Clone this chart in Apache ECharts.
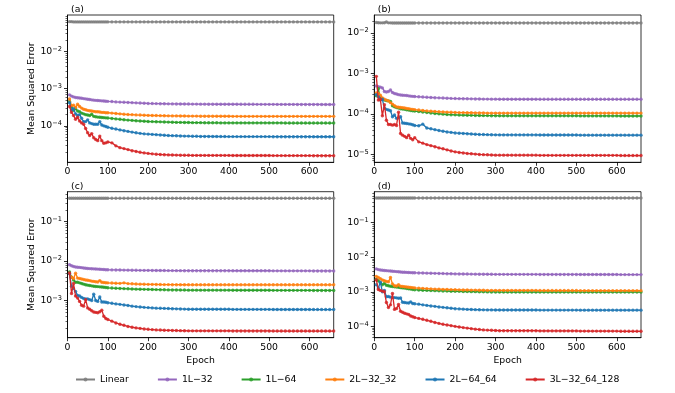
<!DOCTYPE html>
<html><head><meta charset="utf-8">
<script src="https://cdn.jsdelivr.net/npm/echarts@6/dist/echarts.min.js"></script>
<style>html,body{margin:0;padding:0;background:#fff}#c{width:675px;height:393px}</style>
</head><body><div id="c"></div>
<script>
const epochs = [5,10,15,20,25,30,35,40,45,50,55,60,65,70,75,80,85,90,95,100,
110,120,130,140,150,160,170,180,190,200,
210,220,230,240,250,260,270,280,290,300,
310,320,330,340,350,360,370,380,390,400,
410,420,430,440,450,460,470,480,490,500,
510,520,530,540,550,560,570,580,590,600,
610,620,630,640,650,660];

const seriesNames = ['Linear','1L\u221232','1L\u221264','2L\u221232_32','2L\u221264_64','3L\u221232_64_128'];
const panelLabels = ['(a)','(b)','(c)','(d)'];
const xTickValues = [0,100,200,300,400,500,600];
const yTicksA = [1e-4,1e-3,1e-2];
const yTicksB = [1e-5,1e-4,1e-3,1e-2];
const yTicksC = [1e-3,1e-2,1e-1];
const yTicksD = [1e-4,1e-3,1e-2,1e-1];

// ---------- panel (a)
const a_linear = [0.063,0.063,0.062,0.062,0.062,0.062,0.062,0.062,0.062,0.062,0.062,0.062,0.062,0.062,0.062,0.062,0.062,0.062,0.062,0.062,
0.062,0.062,0.062,0.062,0.062,0.062,0.062,0.062,0.062,0.062,
0.062,0.062,0.062,0.062,0.062,0.062,0.062,0.062,0.062,0.062,
0.062,0.062,0.062,0.062,0.062,0.062,0.062,0.062,0.062,0.062,
0.062,0.062,0.062,0.062,0.062,0.062,0.062,0.062,0.062,0.062,
0.062,0.062,0.062,0.062,0.062,0.062,0.062,0.062,0.062,0.062,
0.062,0.062,0.062,0.062,0.062,0.062];
const a_1L32 = [6.8e-4,6.3e-4,6.0e-4,5.8e-4,5.7e-4,5.6e-4,5.5e-4,5.4e-4,5.3e-4,5.2e-4,5.1e-4,5.0e-4,4.9e-4,4.85e-4,4.8e-4,4.75e-4,4.7e-4,4.65e-4,4.6e-4,4.55e-4,
4.5e-4,4.4e-4,4.35e-4,4.3e-4,4.25e-4,4.2e-4,4.15e-4,4.1e-4,4.05e-4,4.0e-4,
3.98e-4,3.96e-4,3.94e-4,3.92e-4,3.9e-4,3.89e-4,3.88e-4,3.87e-4,3.86e-4,3.85e-4,
3.84e-4,3.84e-4,3.83e-4,3.83e-4,3.82e-4,3.82e-4,3.81e-4,3.81e-4,3.8e-4,3.8e-4,
3.8e-4,3.8e-4,3.79e-4,3.79e-4,3.79e-4,3.79e-4,3.78e-4,3.78e-4,3.78e-4,3.78e-4,
3.78e-4,3.77e-4,3.77e-4,3.77e-4,3.77e-4,3.77e-4,3.76e-4,3.76e-4,3.76e-4,3.76e-4,
3.76e-4,3.76e-4,3.75e-4,3.75e-4,3.75e-4,3.75e-4];
const a_1L64 = [4.5e-4,3.2e-4,2.6e-4,2.9e-4,2.5e-4,2.4e-4,2.2e-4,2.1e-4,2.0e-4,1.95e-4,1.9e-4,2.05e-4,1.8e-4,1.75e-4,1.72e-4,1.7e-4,1.68e-4,1.66e-4,1.64e-4,1.62e-4,
1.58e-4,1.54e-4,1.5e-4,1.46e-4,1.43e-4,1.4e-4,1.37e-4,1.35e-4,1.33e-4,1.31e-4,
1.3e-4,1.29e-4,1.28e-4,1.27e-4,1.26e-4,1.25e-4,1.24e-4,1.24e-4,1.23e-4,1.23e-4,
1.22e-4,1.22e-4,1.22e-4,1.21e-4,1.21e-4,1.21e-4,1.21e-4,1.2e-4,1.2e-4,1.2e-4,
1.2e-4,1.2e-4,1.2e-4,1.2e-4,1.2e-4,1.2e-4,1.2e-4,1.2e-4,1.2e-4,1.2e-4,
1.2e-4,1.2e-4,1.2e-4,1.19e-4,1.19e-4,1.19e-4,1.19e-4,1.19e-4,1.19e-4,1.19e-4,
1.19e-4,1.19e-4,1.19e-4,1.19e-4,1.19e-4,1.19e-4];
const a_2L3232 = [5.3e-4,3.5e-4,3.6e-4,3.1e-4,3.8e-4,3.3e-4,3.0e-4,2.8e-4,2.7e-4,2.6e-4,2.55e-4,2.5e-4,2.45e-4,2.4e-4,2.4e-4,2.35e-4,2.3e-4,2.3e-4,2.25e-4,2.25e-4,
2.2e-4,2.15e-4,2.1e-4,2.05e-4,2.02e-4,2.0e-4,1.97e-4,1.95e-4,1.93e-4,1.91e-4,
1.9e-4,1.89e-4,1.88e-4,1.87e-4,1.86e-4,1.85e-4,1.85e-4,1.84e-4,1.84e-4,1.83e-4,
1.83e-4,1.83e-4,1.82e-4,1.82e-4,1.82e-4,1.82e-4,1.81e-4,1.81e-4,1.81e-4,1.81e-4,
1.8e-4,1.8e-4,1.8e-4,1.8e-4,1.8e-4,1.8e-4,1.8e-4,1.8e-4,1.8e-4,1.8e-4,
1.8e-4,1.8e-4,1.8e-4,1.8e-4,1.8e-4,1.8e-4,1.8e-4,1.8e-4,1.8e-4,1.8e-4,
1.8e-4,1.8e-4,1.8e-4,1.8e-4,1.8e-4,1.8e-4];
const a_2L6464 = [4.2e-4,2.6e-4,2.9e-4,2.1e-4,1.9e-4,2.0e-4,1.6e-4,1.3e-4,1.3e-4,1.45e-4,1.2e-4,1.15e-4,1.1e-4,1.1e-4,1.1e-4,1.3e-4,1.05e-4,1.0e-4,9.6e-5,9.2e-5,
8.6e-5,8.2e-5,7.8e-5,7.4e-5,7.1e-5,6.8e-5,6.5e-5,6.3e-5,6.1e-5,6.0e-5,
5.9e-5,5.8e-5,5.7e-5,5.6e-5,5.5e-5,5.45e-5,5.4e-5,5.35e-5,5.3e-5,5.3e-5,
5.25e-5,5.25e-5,5.2e-5,5.2e-5,5.2e-5,5.18e-5,5.18e-5,5.16e-5,5.16e-5,5.15e-5,
5.15e-5,5.15e-5,5.15e-5,5.15e-5,5.15e-5,5.15e-5,5.15e-5,5.15e-5,5.15e-5,5.15e-5,
5.12e-5,5.12e-5,5.12e-5,5.12e-5,5.12e-5,5.12e-5,5.12e-5,5.12e-5,5.12e-5,5.12e-5,
5.1e-5,5.1e-5,5.1e-5,5.1e-5,5.1e-5,5.1e-5];
const a_3L = [3.3e-4,2.3e-4,1.9e-4,1.5e-4,1.7e-4,1.35e-4,1.2e-4,1.1e-4,8.5e-5,6.5e-5,5.5e-5,6.2e-5,4.8e-5,4.3e-5,4.0e-5,5.3e-5,4.0e-5,3.4e-5,3.5e-5,3.7e-5,
3.5e-5,2.9e-5,2.6e-5,2.45e-5,2.3e-5,2.15e-5,2.05e-5,1.95e-5,1.88e-5,1.82e-5,
1.77e-5,1.73e-5,1.7e-5,1.68e-5,1.66e-5,1.65e-5,1.64e-5,1.63e-5,1.62e-5,1.62e-5,
1.61e-5,1.61e-5,1.61e-5,1.61e-5,1.61e-5,1.61e-5,1.61e-5,1.61e-5,1.61e-5,1.61e-5,
1.6e-5,1.6e-5,1.6e-5,1.6e-5,1.6e-5,1.6e-5,1.6e-5,1.6e-5,1.6e-5,1.6e-5,
1.59e-5,1.59e-5,1.59e-5,1.59e-5,1.59e-5,1.59e-5,1.59e-5,1.59e-5,1.59e-5,1.59e-5,
1.58e-5,1.58e-5,1.58e-5,1.58e-5,1.58e-5,1.58e-5];

// ---------- panel (b)
const b_linear = [0.0181,0.0179,0.0178,0.0178,0.0179,0.0186,0.0178,0.0178,0.0177,0.0177,0.0177,0.0177,0.0177,0.0177,0.0177,0.0177,0.0177,0.0177,0.0177,0.0177,
0.0177,0.0177,0.0177,0.0177,0.0177,0.0177,0.0177,0.0177,0.0177,0.0177,
0.0177,0.0177,0.0177,0.0177,0.0177,0.0177,0.0177,0.0177,0.0177,0.0177,
0.0177,0.0177,0.0177,0.0177,0.0177,0.0177,0.0177,0.0177,0.0177,0.0177,
0.0177,0.0177,0.0177,0.0177,0.0177,0.0177,0.0177,0.0177,0.0177,0.0177,
0.0177,0.0177,0.0177,0.0177,0.0177,0.0177,0.0177,0.0177,0.0177,0.0177,
0.0177,0.0177,0.0177,0.0177,0.0177,0.0177];
const b_1L32 = [4.9e-4,4.7e-4,4.6e-4,4.4e-4,3.6e-4,3.5e-4,3.6e-4,3.9e-4,3.4e-4,3.2e-4,3.1e-4,3.0e-4,2.95e-4,2.9e-4,2.88e-4,2.85e-4,2.8e-4,2.75e-4,2.72e-4,2.7e-4,
2.65e-4,2.62e-4,2.58e-4,2.55e-4,2.52e-4,2.5e-4,2.47e-4,2.45e-4,2.42e-4,2.4e-4,
2.39e-4,2.38e-4,2.37e-4,2.36e-4,2.35e-4,2.34e-4,2.33e-4,2.33e-4,2.32e-4,2.32e-4,
2.31e-4,2.31e-4,2.31e-4,2.31e-4,2.31e-4,2.31e-4,2.31e-4,2.31e-4,2.31e-4,2.31e-4,
2.3e-4,2.3e-4,2.3e-4,2.3e-4,2.3e-4,2.3e-4,2.3e-4,2.3e-4,2.3e-4,2.3e-4,
2.3e-4,2.3e-4,2.3e-4,2.3e-4,2.3e-4,2.3e-4,2.3e-4,2.3e-4,2.3e-4,2.3e-4,
2.3e-4,2.3e-4,2.3e-4,2.3e-4,2.3e-4,2.3e-4];
const b_1L64 = [2.8e-4,4.2e-4,2.4e-4,2.3e-4,2.2e-4,2.15e-4,2.1e-4,2.05e-4,1.6e-4,1.5e-4,1.45e-4,1.4e-4,1.35e-4,1.32e-4,1.3e-4,1.27e-4,1.25e-4,1.22e-4,1.2e-4,1.18e-4,
1.15e-4,1.12e-4,1.09e-4,1.06e-4,1.03e-4,1.01e-4,9.9e-5,9.7e-5,9.6e-5,9.5e-5,
9.4e-5,9.35e-5,9.3e-5,9.25e-5,9.2e-5,9.15e-5,9.1e-5,9.1e-5,9.05e-5,9.05e-5,
9.0e-5,9.0e-5,9.0e-5,9.0e-5,9.0e-5,9.0e-5,9.0e-5,9.0e-5,9.0e-5,9.0e-5,
9.0e-5,9.0e-5,9.0e-5,9.0e-5,9.0e-5,9.0e-5,9.0e-5,9.0e-5,9.0e-5,9.0e-5,
8.95e-5,8.95e-5,8.95e-5,8.95e-5,8.95e-5,8.95e-5,8.95e-5,8.95e-5,8.95e-5,8.95e-5,
8.9e-5,8.9e-5,8.9e-5,8.9e-5,8.9e-5,8.9e-5];
const b_2L3232 = [3.3e-4,3.2e-4,2.9e-4,2.5e-4,2.3e-4,2.2e-4,2.1e-4,1.9e-4,1.75e-4,1.6e-4,1.5e-4,1.47e-4,1.45e-4,1.42e-4,1.4e-4,1.37e-4,1.35e-4,1.32e-4,1.3e-4,1.28e-4,
1.25e-4,1.22e-4,1.19e-4,1.17e-4,1.15e-4,1.13e-4,1.12e-4,1.11e-4,1.1e-4,1.09e-4,
1.08e-4,1.08e-4,1.07e-4,1.07e-4,1.06e-4,1.06e-4,1.06e-4,1.05e-4,1.05e-4,1.05e-4,
1.05e-4,1.05e-4,1.05e-4,1.05e-4,1.05e-4,1.05e-4,1.05e-4,1.05e-4,1.05e-4,1.05e-4,
1.05e-4,1.05e-4,1.05e-4,1.05e-4,1.05e-4,1.05e-4,1.05e-4,1.05e-4,1.05e-4,1.05e-4,
1.05e-4,1.05e-4,1.05e-4,1.05e-4,1.05e-4,1.05e-4,1.05e-4,1.05e-4,1.05e-4,1.05e-4,
1.05e-4,1.05e-4,1.05e-4,1.05e-4,1.05e-4,1.05e-4];
const b_2L6464 = [3.0e-4,2.65e-4,2.2e-4,2.3e-4,1.4e-4,1.3e-4,1.25e-4,1.2e-4,8.5e-5,9.4e-5,7.8e-5,8.0e-5,8.5e-5,6.0e-5,5.9e-5,5.8e-5,5.7e-5,5.6e-5,5.4e-5,5.2e-5,
5.1e-5,5.6e-5,4.5e-5,4.3e-5,4.1e-5,3.9e-5,3.75e-5,3.6e-5,3.5e-5,3.4e-5,
3.35e-5,3.3e-5,3.25e-5,3.2e-5,3.15e-5,3.12e-5,3.1e-5,3.08e-5,3.06e-5,3.05e-5,
3.04e-5,3.04e-5,3.04e-5,3.04e-5,3.04e-5,3.04e-5,3.04e-5,3.04e-5,3.04e-5,3.04e-5,
3.02e-5,3.02e-5,3.02e-5,3.02e-5,3.02e-5,3.02e-5,3.02e-5,3.02e-5,3.02e-5,3.02e-5,
3.0e-5,3.0e-5,3.0e-5,3.0e-5,3.0e-5,3.0e-5,3.0e-5,3.0e-5,3.0e-5,3.0e-5,
3.0e-5,3.0e-5,3.0e-5,3.0e-5,3.0e-5,3.0e-5];
const b_3L = [8.5e-4,2.2e-4,2.3e-4,9.0e-5,1.7e-4,7.0e-5,5.5e-5,5.5e-5,5.3e-5,5.5e-5,5.2e-5,1.1e-4,3.3e-5,3.0e-5,2.8e-5,2.6e-5,3.0e-5,2.5e-5,2.3e-5,2.6e-5,
2.05e-5,1.9e-5,1.75e-5,1.65e-5,1.55e-5,1.45e-5,1.38e-5,1.3e-5,1.22e-5,1.16e-5,
1.12e-5,1.09e-5,1.06e-5,1.04e-5,1.02e-5,1.0e-5,9.9e-6,9.8e-6,9.7e-6,9.6e-6,
9.6e-6,9.6e-6,9.6e-6,9.6e-6,9.6e-6,9.6e-6,9.6e-6,9.6e-6,9.6e-6,9.6e-6,
9.5e-6,9.5e-6,9.5e-6,9.5e-6,9.5e-6,9.5e-6,9.5e-6,9.5e-6,9.5e-6,9.5e-6,
9.5e-6,9.5e-6,9.5e-6,9.5e-6,9.5e-6,9.5e-6,9.5e-6,9.5e-6,9.5e-6,9.5e-6,
9.4e-6,9.4e-6,9.4e-6,9.4e-6,9.4e-6,9.4e-6];

// ---------- panel (c)
const c_linear = [0.39,0.39,0.39,0.39,0.39,0.39,0.39,0.39,0.39,0.39,0.39,0.39,0.39,0.39,0.39,0.39,0.39,0.39,0.39,0.39,
0.39,0.39,0.39,0.39,0.39,0.39,0.39,0.39,0.39,0.39,
0.39,0.39,0.39,0.39,0.39,0.39,0.39,0.39,0.39,0.39,
0.39,0.39,0.39,0.39,0.39,0.39,0.39,0.39,0.39,0.39,
0.39,0.39,0.39,0.39,0.39,0.39,0.39,0.39,0.39,0.39,
0.39,0.39,0.39,0.39,0.39,0.39,0.39,0.39,0.39,0.39,
0.39,0.39,0.39,0.39,0.39,0.39];
const c_1L32 = [8.1e-3,7.6e-3,7.3e-3,7.1e-3,7.0e-3,6.9e-3,6.8e-3,6.7e-3,6.6e-3,6.5e-3,6.45e-3,6.4e-3,6.35e-3,6.3e-3,6.25e-3,6.2e-3,6.15e-3,6.1e-3,6.05e-3,6.0e-3,
5.97e-3,5.95e-3,5.93e-3,5.9e-3,5.88e-3,5.86e-3,5.84e-3,5.82e-3,5.8e-3,5.8e-3,
5.78e-3,5.77e-3,5.76e-3,5.75e-3,5.74e-3,5.73e-3,5.72e-3,5.71e-3,5.7e-3,5.7e-3,
5.7e-3,5.7e-3,5.7e-3,5.7e-3,5.7e-3,5.7e-3,5.7e-3,5.7e-3,5.7e-3,5.7e-3,
5.68e-3,5.68e-3,5.68e-3,5.68e-3,5.68e-3,5.68e-3,5.68e-3,5.68e-3,5.68e-3,5.68e-3,
5.65e-3,5.65e-3,5.65e-3,5.65e-3,5.65e-3,5.65e-3,5.65e-3,5.65e-3,5.65e-3,5.65e-3,
5.62e-3,5.62e-3,5.62e-3,5.62e-3,5.62e-3,5.62e-3];
const c_1L64 = [5.3e-3,3.9e-3,3.3e-3,2.9e-3,2.9e-3,2.8e-3,2.7e-3,2.6e-3,2.5e-3,2.45e-3,2.4e-3,2.35e-3,2.3e-3,2.27e-3,2.25e-3,2.22e-3,2.2e-3,2.17e-3,2.14e-3,2.1e-3,
2.07e-3,2.04e-3,2.02e-3,2.0e-3,1.98e-3,1.96e-3,1.94e-3,1.93e-3,1.92e-3,1.91e-3,
1.9e-3,1.89e-3,1.88e-3,1.87e-3,1.86e-3,1.85e-3,1.85e-3,1.84e-3,1.84e-3,1.83e-3,
1.83e-3,1.83e-3,1.83e-3,1.83e-3,1.83e-3,1.83e-3,1.83e-3,1.83e-3,1.83e-3,1.83e-3,
1.82e-3,1.82e-3,1.82e-3,1.82e-3,1.82e-3,1.82e-3,1.82e-3,1.82e-3,1.82e-3,1.82e-3,
1.81e-3,1.81e-3,1.81e-3,1.81e-3,1.81e-3,1.81e-3,1.81e-3,1.81e-3,1.81e-3,1.81e-3,
1.8e-3,1.8e-3,1.8e-3,1.8e-3,1.8e-3,1.8e-3];
const c_2L3232 = [4.8e-3,3.9e-3,3.6e-3,4.9e-3,3.7e-3,3.6e-3,3.5e-3,3.4e-3,3.3e-3,3.25e-3,3.2e-3,3.1e-3,3.05e-3,3.0e-3,2.95e-3,3.2e-3,2.9e-3,2.85e-3,2.82e-3,2.8e-3,
2.77e-3,2.74e-3,2.72e-3,2.8e-3,2.68e-3,2.65e-3,2.62e-3,2.6e-3,2.58e-3,2.57e-3,
2.56e-3,2.55e-3,2.54e-3,2.53e-3,2.53e-3,2.52e-3,2.52e-3,2.51e-3,2.51e-3,2.5e-3,
2.5e-3,2.5e-3,2.5e-3,2.5e-3,2.5e-3,2.5e-3,2.5e-3,2.5e-3,2.5e-3,2.5e-3,
2.5e-3,2.5e-3,2.5e-3,2.5e-3,2.5e-3,2.5e-3,2.5e-3,2.5e-3,2.5e-3,2.5e-3,
2.5e-3,2.5e-3,2.5e-3,2.5e-3,2.5e-3,2.5e-3,2.5e-3,2.5e-3,2.5e-3,2.5e-3,
2.5e-3,2.5e-3,2.5e-3,2.5e-3,2.5e-3,2.5e-3];
const c_2L6464 = [4.8e-3,2.3e-3,2.0e-3,1.7e-3,1.35e-3,1.3e-3,1.2e-3,1.12e-3,1.1e-3,1.1e-3,1.05e-3,1.0e-3,1.44e-3,1.0e-3,9.5e-4,1.23e-3,9.2e-4,9.2e-4,9.0e-4,8.8e-4,
8.5e-4,8.2e-4,8.0e-4,7.7e-4,7.5e-4,7.2e-4,7.0e-4,6.85e-4,6.7e-4,6.6e-4,
6.5e-4,6.4e-4,6.35e-4,6.3e-4,6.25e-4,6.2e-4,6.15e-4,6.1e-4,6.05e-4,6.0e-4,
6.0e-4,6.0e-4,6.0e-4,6.0e-4,6.0e-4,6.0e-4,6.0e-4,6.0e-4,6.0e-4,6.0e-4,
5.95e-4,5.95e-4,5.95e-4,5.95e-4,5.95e-4,5.95e-4,5.95e-4,5.95e-4,5.95e-4,5.95e-4,
5.92e-4,5.92e-4,5.92e-4,5.92e-4,5.92e-4,5.92e-4,5.92e-4,5.92e-4,5.92e-4,5.92e-4,
5.9e-4,5.9e-4,5.9e-4,5.9e-4,5.9e-4,5.9e-4];
const c_3L = [5.0e-3,1.5e-3,2.7e-3,1.3e-3,1.15e-3,9.5e-4,7.6e-4,7.2e-4,1.05e-3,6.5e-4,6.0e-4,5.5e-4,5.1e-4,5.0e-4,4.9e-4,5.2e-4,5.7e-4,4.0e-4,3.5e-4,3.3e-4,
3.0e-4,2.7e-4,2.5e-4,2.35e-4,2.2e-4,2.1e-4,2.02e-4,1.96e-4,1.9e-4,1.86e-4,
1.83e-4,1.8e-4,1.78e-4,1.76e-4,1.75e-4,1.74e-4,1.73e-4,1.72e-4,1.71e-4,1.7e-4,
1.7e-4,1.7e-4,1.7e-4,1.7e-4,1.7e-4,1.7e-4,1.7e-4,1.7e-4,1.7e-4,1.7e-4,
1.69e-4,1.69e-4,1.69e-4,1.69e-4,1.69e-4,1.69e-4,1.69e-4,1.69e-4,1.69e-4,1.69e-4,
1.68e-4,1.68e-4,1.68e-4,1.68e-4,1.68e-4,1.68e-4,1.68e-4,1.68e-4,1.68e-4,1.68e-4,
1.68e-4,1.68e-4,1.68e-4,1.68e-4,1.68e-4,1.68e-4];

// ---------- panel (d)
const d_linear = [0.52,0.52,0.52,0.52,0.52,0.52,0.52,0.52,0.52,0.52,0.52,0.52,0.52,0.52,0.52,0.52,0.52,0.52,0.52,0.52,
0.52,0.52,0.52,0.52,0.52,0.52,0.52,0.52,0.52,0.52,
0.52,0.52,0.52,0.52,0.52,0.52,0.52,0.52,0.52,0.52,
0.52,0.52,0.52,0.52,0.52,0.52,0.52,0.52,0.52,0.52,
0.52,0.52,0.52,0.52,0.52,0.52,0.52,0.52,0.52,0.52,
0.52,0.52,0.52,0.52,0.52,0.52,0.52,0.52,0.52,0.52,
0.52,0.52,0.52,0.52,0.52,0.52];
const d_1L32 = [4.6e-3,4.4e-3,4.3e-3,4.2e-3,4.15e-3,4.1e-3,4.05e-3,4.0e-3,3.95e-3,3.9e-3,3.85e-3,3.8e-3,3.75e-3,3.7e-3,3.68e-3,3.65e-3,3.62e-3,3.6e-3,3.58e-3,3.55e-3,
3.52e-3,3.5e-3,3.47e-3,3.45e-3,3.42e-3,3.4e-3,3.38e-3,3.35e-3,3.33e-3,3.3e-3,
3.29e-3,3.28e-3,3.27e-3,3.26e-3,3.25e-3,3.24e-3,3.23e-3,3.22e-3,3.21e-3,3.2e-3,
3.2e-3,3.2e-3,3.2e-3,3.2e-3,3.2e-3,3.2e-3,3.2e-3,3.2e-3,3.2e-3,3.2e-3,
3.18e-3,3.18e-3,3.18e-3,3.18e-3,3.18e-3,3.18e-3,3.18e-3,3.18e-3,3.18e-3,3.18e-3,
3.17e-3,3.17e-3,3.17e-3,3.17e-3,3.17e-3,3.17e-3,3.17e-3,3.17e-3,3.17e-3,3.17e-3,
3.15e-3,3.15e-3,3.15e-3,3.15e-3,3.15e-3,3.15e-3];
const d_1L64 = [2.3e-3,2.1e-3,1.8e-3,1.6e-3,1.75e-3,1.55e-3,1.5e-3,1.45e-3,1.42e-3,1.4e-3,1.38e-3,1.35e-3,1.32e-3,1.3e-3,1.28e-3,1.25e-3,1.22e-3,1.2e-3,1.17e-3,1.15e-3,
1.13e-3,1.11e-3,1.1e-3,1.09e-3,1.08e-3,1.07e-3,1.06e-3,1.05e-3,1.04e-3,1.04e-3,
1.03e-3,1.02e-3,1.02e-3,1.01e-3,1.01e-3,1.0e-3,1.0e-3,9.95e-4,9.9e-4,9.9e-4,
9.85e-4,9.85e-4,9.85e-4,9.85e-4,9.85e-4,9.85e-4,9.85e-4,9.85e-4,9.85e-4,9.85e-4,
9.82e-4,9.82e-4,9.82e-4,9.82e-4,9.82e-4,9.82e-4,9.82e-4,9.82e-4,9.82e-4,9.82e-4,
9.8e-4,9.8e-4,9.8e-4,9.8e-4,9.8e-4,9.8e-4,9.8e-4,9.8e-4,9.8e-4,9.8e-4,
9.8e-4,9.8e-4,9.8e-4,9.8e-4,9.8e-4,9.8e-4];
const d_2L3232 = [2.8e-3,2.6e-3,2.4e-3,2.2e-3,2.1e-3,2.0e-3,1.95e-3,2.6e-3,1.7e-3,1.5e-3,1.48e-3,1.6e-3,1.45e-3,1.43e-3,1.4e-3,1.38e-3,1.36e-3,1.34e-3,1.32e-3,1.3e-3,
1.28e-3,1.26e-3,1.24e-3,1.22e-3,1.2e-3,1.19e-3,1.18e-3,1.17e-3,1.16e-3,1.15e-3,
1.14e-3,1.13e-3,1.13e-3,1.12e-3,1.12e-3,1.11e-3,1.11e-3,1.1e-3,1.1e-3,1.1e-3,
1.1e-3,1.1e-3,1.1e-3,1.1e-3,1.1e-3,1.1e-3,1.1e-3,1.1e-3,1.1e-3,1.1e-3,
1.09e-3,1.09e-3,1.09e-3,1.09e-3,1.09e-3,1.09e-3,1.09e-3,1.09e-3,1.09e-3,1.09e-3,
1.08e-3,1.08e-3,1.08e-3,1.08e-3,1.08e-3,1.08e-3,1.08e-3,1.08e-3,1.08e-3,1.08e-3,
1.08e-3,1.08e-3,1.08e-3,1.08e-3,1.08e-3,1.08e-3];
const d_2L6464 = [1.6e-3,1.3e-3,1.9e-3,1.0e-3,1.1e-3,7.2e-4,7.3e-4,7.0e-4,6.8e-4,6.8e-4,6.7e-4,6.5e-4,6.6e-4,5.0e-4,4.9e-4,4.8e-4,4.75e-4,5.1e-4,4.6e-4,4.5e-4,
4.4e-4,4.2e-4,4.05e-4,3.9e-4,3.8e-4,3.65e-4,3.55e-4,3.45e-4,3.35e-4,3.25e-4,
3.2e-4,3.15e-4,3.1e-4,3.08e-4,3.05e-4,3.03e-4,3.01e-4,3.0e-4,3.0e-4,2.98e-4,
2.98e-4,2.98e-4,2.98e-4,2.98e-4,2.98e-4,2.98e-4,2.98e-4,2.98e-4,2.98e-4,2.98e-4,
2.96e-4,2.96e-4,2.96e-4,2.96e-4,2.96e-4,2.96e-4,2.96e-4,2.96e-4,2.96e-4,2.96e-4,
2.95e-4,2.95e-4,2.95e-4,2.95e-4,2.95e-4,2.95e-4,2.95e-4,2.95e-4,2.95e-4,2.95e-4,
2.95e-4,2.95e-4,2.95e-4,2.95e-4,2.95e-4,2.95e-4];
const d_3L = [2.2e-3,1.17e-3,1.1e-3,1.05e-3,1.0e-3,4.9e-4,3.5e-4,4.2e-4,8.9e-4,3.1e-4,3.3e-4,4.3e-4,2.75e-4,2.55e-4,2.4e-4,2.3e-4,2.2e-4,2.0e-4,1.9e-4,1.8e-4,
1.7e-4,1.6e-4,1.5e-4,1.4e-4,1.3e-4,1.22e-4,1.15e-4,1.1e-4,1.05e-4,1.0e-4,
9.6e-5,9.2e-5,8.9e-5,8.6e-5,8.3e-5,8.1e-5,7.9e-5,7.8e-5,7.7e-5,7.6e-5,
7.5e-5,7.5e-5,7.5e-5,7.5e-5,7.5e-5,7.5e-5,7.5e-5,7.5e-5,7.5e-5,7.5e-5,
7.4e-5,7.4e-5,7.4e-5,7.4e-5,7.4e-5,7.4e-5,7.4e-5,7.4e-5,7.4e-5,7.4e-5,
7.3e-5,7.3e-5,7.3e-5,7.3e-5,7.3e-5,7.3e-5,7.3e-5,7.3e-5,7.3e-5,7.3e-5,
7.2e-5,7.2e-5,7.2e-5,7.2e-5,7.2e-5,7.2e-5];

// ---------- build
const panelsData = [
  [a_linear,a_1L32,a_1L64,a_2L3232,a_2L6464,a_3L],
  [b_linear,b_1L32,b_1L64,b_2L3232,b_2L6464,b_3L],
  [c_linear,c_1L32,c_1L64,c_2L3232,c_2L6464,c_3L],
  [d_linear,d_1L32,d_1L64,d_2L3232,d_2L6464,d_3L]
];
const yTickSets = [yTicksA,yTicksB,yTicksC,yTicksD];
const colors = ['#7f7f7f','#9467bd','#2ca02c','#ff7f0e','#1f77b4','#d62728'];
const yMin = [1.05e-5, 6.4e-6, 1.14e-4, 4.7e-5];
const yMax = [0.095, 0.0278, 0.574, 0.79];
const grids = [
  {left:67.5, top:15, width:266.2, height:147.3},
  {left:374.3, top:15, width:266.7, height:147.3},
  {left:67.5, top:191.7, width:266.2, height:146},
  {left:374.3, top:191.7, width:266.7, height:146}
];
const FONT = 'DejaVu Sans';
const FS = 9.3;
const ink = '#000';

function minorVals(p){
  const out = [];
  for (let e = -7; e <= 0; e++) {
    for (let m = 2; m <= 9; m++) {
      const v = m * Math.pow(10, e);
      if (v > yMin[p] && v < yMax[p]) out.push(v);
    }
  }
  return out;
}
function expLabel(v){
  const e = Math.round(Math.log10(v));
  return '10{s|' + (e < 0 ? '\u2212' : '') + Math.abs(e) + '}';
}

const xAxes = [], yAxes = [], series = [], graphics = [];
for (let p = 0; p < 4; p++) {
  const bottom = p >= 2;
  xAxes.push({
    type:'value', gridIndex:p, min:0, max:660, interval:100,
    name: bottom ? 'Epoch' : '', nameLocation:'middle', nameGap:18,
    nameTextStyle:{fontFamily:FONT, fontSize:FS, color:ink},
    axisLine:{show:true, lineStyle:{color:ink, width:0.8}},
    axisTick:{show:true, length:3.5, lineStyle:{color:ink, width:0.8}, customValues:xTickValues},
    axisLabel:{fontFamily:FONT, fontSize:FS, color:ink, margin:5, customValues:xTickValues},
    splitLine:{show:false}
  });
}
for (let p = 0; p < 4; p++) {
  const left = (p % 2) === 0;
  yAxes.push({
    type:'log', logBase:10, gridIndex:p, min:yMin[p], max:yMax[p], position:'left',
    name: left ? 'Mean Squared Error' : '', nameLocation:'middle', nameGap:31,
    nameTextStyle:{fontFamily:FONT, fontSize:FS, color:ink},
    axisLine:{show:true, lineStyle:{color:ink, width:0.8}},
    axisTick:{show:true, length:3.5, lineStyle:{color:ink, width:0.8}, customValues:yTickSets[p]},
    axisLabel:{fontFamily:FONT, fontSize:FS, color:ink, margin:5.5, customValues:yTickSets[p],
      formatter:expLabel,
      rich:{s:{fontFamily:FONT, fontSize:6.6, color:ink, verticalAlign:'bottom', padding:[0,0,5,0]}}},
    splitLine:{show:false}
  });
}
for (let p = 0; p < 4; p++) {
  yAxes.push({
    type:'log', logBase:10, gridIndex:p, min:yMin[p], max:yMax[p], position:'left',
    axisLine:{show:false},
    axisTick:{show:true, length:2, lineStyle:{color:ink, width:0.6}, customValues:minorVals(p)},
    axisLabel:{show:false},
    splitLine:{show:false}
  });
}
for (let p = 0; p < 4; p++) {
  panelsData[p].forEach((arr, k) => {
    series.push({
      type:'line', name:seriesNames[k], xAxisIndex:p, yAxisIndex:p,
      data: epochs.map((e, i) => [e, arr[i]]),
      symbol:'circle', symbolSize:3.4, showSymbol:true,
      lineStyle:{width:1.3, color:colors[k]},
      itemStyle:{color:colors[k], opacity:0.85},
      emphasis:{disabled:true},
      z: 2 + k, animation:false
    });
  });
  const g = grids[p];
  graphics.push({type:'text', x:g.left + 3.5, y:g.top - 5.5,
    style:{text:panelLabels[p], font: FS + 'px "' + FONT + '"', fill:ink, verticalAlign:'middle'}});
}

const chart = echarts.init(document.getElementById('c'), null, {renderer:'canvas'});
chart.setOption({
  backgroundColor:'#fff',
  animation:false,
  textStyle:{fontFamily:FONT},
  grid: grids.map(g => Object.assign({show:true, borderColor:ink, borderWidth:0.8, backgroundColor:'transparent', containLabel:false}, g)),
  xAxis:xAxes, yAxis:yAxes, series:series,
  legend:{data:seriesNames, left:75, top:375, padding:0, itemGap:28, itemWidth:19, itemHeight:5,
    textStyle:{fontFamily:FONT, fontSize:FS, color:ink}},
  graphic:graphics
});
</script></body></html>
